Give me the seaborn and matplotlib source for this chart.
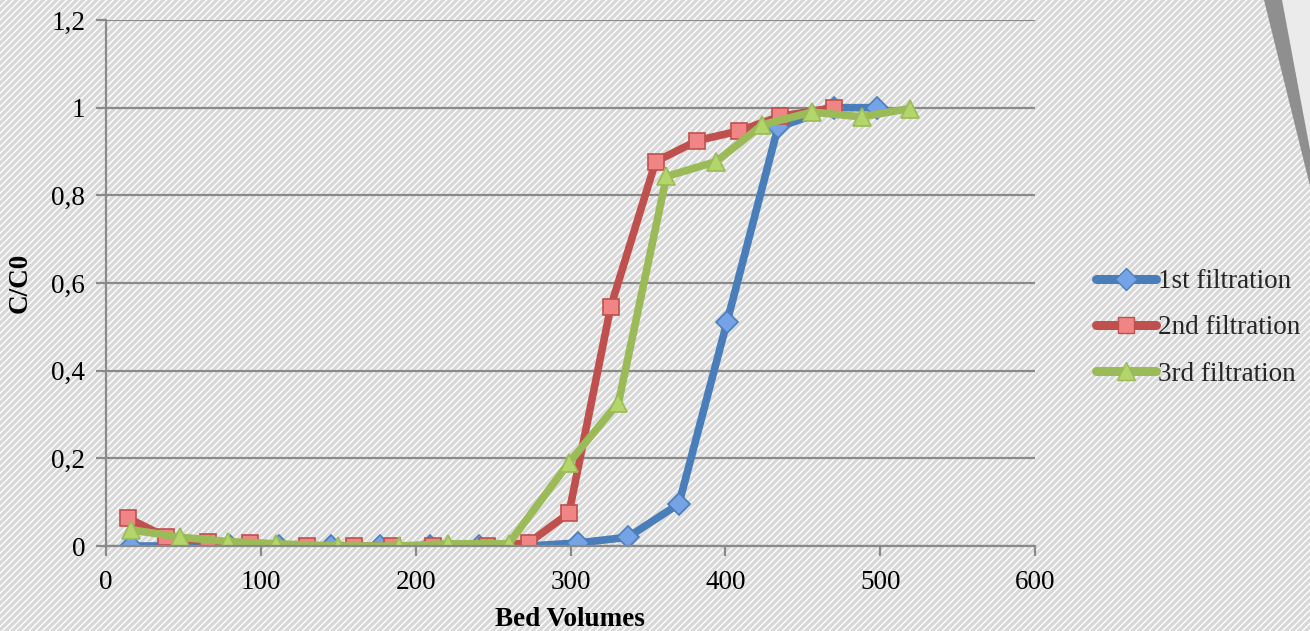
import matplotlib
matplotlib.use("Agg")
import matplotlib.pyplot as plt
from matplotlib.patches import Polygon
from matplotlib.ticker import FuncFormatter
import seaborn as sns
import pandas as pd

# Breakthrough data: bed volumes vs. C/C0 for three successive filtrations
bv_1st = [16, 48, 80, 112, 145, 177, 209, 241, 273, 305, 337, 370, 401, 434, 470, 498]
cc0_1st = [0.0, 0.0, 0.0, 0.0, 0.0, 0.0, 0.0, 0.0, 0.0, 0.007, 0.02, 0.096, 0.51, 0.955, 1.0, 1.0]

bv_2nd = [14, 39, 66, 93, 130, 160, 185, 211, 246, 273, 299, 326, 355, 382, 409, 435, 470]
cc0_2nd = [0.064, 0.02, 0.01, 0.007, 0.0, 0.0, 0.0, 0.0, 0.0, 0.007, 0.075, 0.546, 0.877, 0.925, 0.947, 0.98, 1.0]

bv_3rd = [16, 48, 79, 110, 150, 189, 221, 260, 299, 331, 362, 394, 424, 456, 488, 519]
cc0_3rd = [0.037, 0.02, 0.01, 0.005, 0.0, 0.0, 0.005, 0.005, 0.19, 0.327, 0.843, 0.877, 0.961, 0.99, 0.979, 0.998]

series_names = ["1st filtration", "2nd filtration", "3rd filtration"]

x_ticks = [0, 100, 200, 300, 400, 500, 600]
y_ticks = [0, 0.2, 0.4, 0.6, 0.8, 1.0, 1.2]

sns.set_theme(style="white")
plt.rcParams["font.family"] = ["Liberation Serif", "DejaVu Serif"]
plt.rcParams["hatch.color"] = "#c2c2c2"
plt.rcParams["hatch.linewidth"] = 1.0

W, H = 1310, 631
fig = plt.figure(figsize=(W / 100, H / 100), dpi=100)
fig.patch.set_facecolor("#d8d8d8")
fig.patch.set_hatch("/////")


def fpx(pts):
    return [(x / W, 1 - y / H) for x, y in pts]


# decorative slanted band in the top-right corner
fig.patches.append(Polygon(fpx([(1282, 0), (1310, 0), (1310, 150)]),
                           closed=True, transform=fig.transFigure,
                           facecolor="#ebebeb", edgecolor="none", zorder=0))
fig.patches.append(Polygon(fpx([(1264, 0), (1282, 0), (1310, 150), (1310, 186)]),
                           closed=True, transform=fig.transFigure,
                           facecolor="#8f8f8f", edgecolor="none", hatch="/////", zorder=0))

ax = fig.add_axes([106 / W, 1 - 546 / H, 929 / W, 526 / H])
ax.patch.set_alpha(0)

styles = [
    dict(color="#4a7ebb", marker="D", mfc="#76a3e6", mec="#4a7ebb", ms=11),
    dict(color="#c0504d", marker="s", mfc="#ef8584", mec="#c0504d", ms=12),
    dict(color="#9bbb59", marker="^", mfc="#b2d66a", mec="#9bbb59", ms=13),
]
datasets = [(bv_1st, cc0_1st), (bv_2nd, cc0_2nd), (bv_3rd, cc0_3rd)]

for (bv, cc), name, st in zip(datasets, series_names, styles):
    df = pd.DataFrame({"Bed Volumes": bv, "C/C0": cc})
    sns.lineplot(data=df, x="Bed Volumes", y="C/C0", ax=ax, sort=False,
                 color=st["color"], linewidth=5.5, marker=st["marker"],
                 markersize=st["ms"], markerfacecolor=st["mfc"],
                 markeredgecolor=st["mec"], markeredgewidth=1.2,
                 label=name, solid_capstyle="round", solid_joinstyle="round",
                 legend=False)

ax.set_xlim(0, 600)
ax.set_ylim(0, 1.2)
ax.set_xticks(x_ticks)
ax.set_yticks(y_ticks)
ax.yaxis.set_major_formatter(FuncFormatter(lambda v, p: f"{v:g}".replace(".", ",")))

ax.grid(axis="y", color="#8a8a8a", linewidth=1.6)
ax.grid(axis="x", visible=False)
ax.set_axisbelow(True)
for side in ("top", "right"):
    ax.spines[side].set_visible(False)
for side in ("left", "bottom"):
    ax.spines[side].set_color("#8a8a8a")
    ax.spines[side].set_linewidth(1.6)

ax.tick_params(axis="both", which="major", length=7, width=1.6, color="#8a8a8a",
               direction="out", labelsize=19.5, labelcolor="black")
ax.tick_params(axis="y", pad=8)
ax.tick_params(axis="x", pad=10)
ax.tick_params(bottom=True, left=True)

ax.set_xlabel("Bed Volumes", fontsize=19.5, fontweight="bold", color="black", va="center")
ax.set_ylabel("C/C0", fontsize=19.5, fontweight="bold", color="black", va="center")
ax.xaxis.set_label_coords((570 - 106) / 929, -(620 - 546) / 526)
ax.yaxis.set_label_coords(-(106 - 20) / 929, 0.5)

handles = [plt.Line2D([], [], color=st["color"], linewidth=6.5, marker=st["marker"],
                      markersize=st["ms"], markerfacecolor=st["mfc"],
                      markeredgecolor=st["mec"], solid_capstyle="round")
           for st in styles]
fig.legend(handles, series_names, loc="center left",
           bbox_to_anchor=(1096 / W, 1 - 328 / H), frameon=False,
           fontsize=19.5, handlelength=2.2, handletextpad=0.1, labelspacing=0.78,
           borderaxespad=0, borderpad=0)

fig.savefig("out.png", dpi=100, facecolor=fig.get_facecolor())
